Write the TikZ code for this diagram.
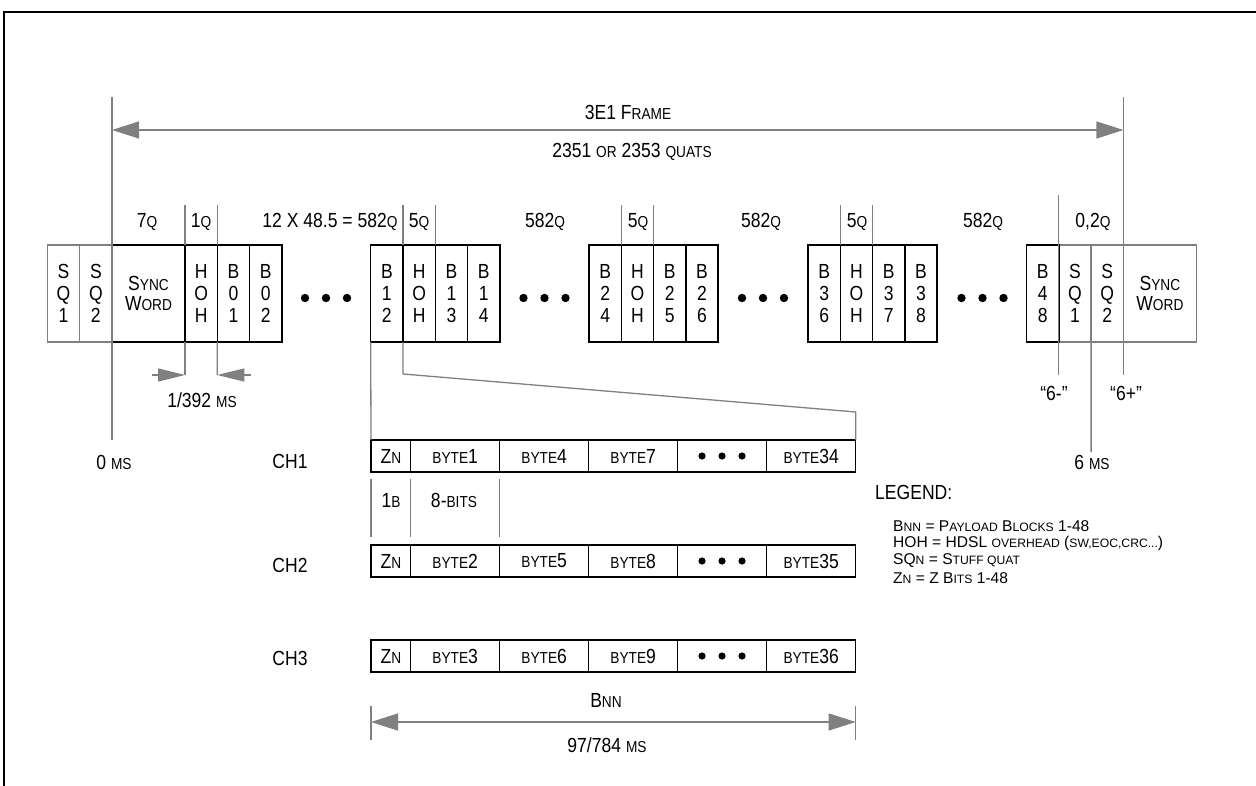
\documentclass[tikz,border=0pt]{standalone}
\usepackage{fontspec}
\usepackage{graphicx}
\setmainfont{Liberation Sans}[FakeStretch=0.86]
\newfontfamily\legfam{Liberation Sans}
\usetikzlibrary{arrows.meta}
\definecolor{lg}{RGB}{128,128,128}
\newcommand\smc[1]{\scalebox{0.78}{#1}}
\newcommand\mainf{\fontsize{20.4pt}{21.7pt}\selectfont}
\newcommand\legf{\legfam\fontsize{15.6pt}{16pt}\selectfont}
\begin{document}
\begin{tikzpicture}[x=1pt,y=-1pt,
  cell/.style={minimum width=32.3pt, minimum height=97pt, inner sep=0pt, outer sep=0pt, align=center, font=\mainf},
  blk/.style={cell, draw=black, line width=1.5pt},
  gry/.style={cell, draw=lg, line width=1.3pt},
  bcell/.style={draw=black, line width=1.5pt, minimum height=32pt, minimum width=89pt, inner sep=0pt, outer sep=0pt, font=\mainf},
  zcell/.style={bcell, minimum width=39.7pt},
  gl/.style={draw=lg, line width=1.3pt},
  dim/.style={gl, {Triangle[length=27pt,width=17pt]}-{Triangle[length=27pt,width=17pt]}},
  sdim/.style={gl, -{Triangle[length=27pt,width=13pt]}},
  lbl/.style={font=\mainf, inner sep=0pt},
  leg/.style={font=\legf, inner sep=0pt, anchor=west},
  dot/.style={fill=black}
]
\useasboundingbox (0,0) rectangle (1256,786);
% outer frame
\draw[line width=2pt] (4,786) -- (4,12) -- (1256,12);

% ---- frame boxes ----
\node[gry] (sq1l) at (63.55,293.5) {S\\Q\\1};
\node[gry] (sq2l) at (95.85,293.5) {S\\Q\\2};
\node[gry] (sq1r) at (1074.95,293.5) {S\\Q\\1};
\node[gry] (sq2r) at (1107.25,293.5) {S\\Q\\2};
\node[gry, minimum width=73pt] (syncr) at (1159.9,293.5) {S\smc{YNC}\\[-1.5pt]W\smc{ORD}};

\node[blk, minimum width=73pt] (syncl) at (148.5,293.5) {S\smc{YNC}\\[-1.5pt]W\smc{ORD}};
\node[blk] (hoh1) at (201.15,293.5) {H\\O\\H};
\node[blk] (b01) at (233.45,293.5) {B\\0\\1};
\node[blk] (b02) at (265.75,293.5) {B\\0\\2};

\node[blk] (b12) at (386.85,293.5) {B\\1\\2};
\node[blk] (hoh2) at (419.15,293.5) {H\\O\\H};
\node[blk] (b13) at (451.45,293.5) {B\\1\\3};
\node[blk] (b14) at (483.75,293.5) {B\\1\\4};

\node[blk] (b24) at (605.15,293.5) {B\\2\\4};
\node[blk] (hoh3) at (637.45,293.5) {H\\O\\H};
\node[blk] (b25) at (669.75,293.5) {B\\2\\5};
\node[blk] (b26) at (702.05,293.5) {B\\2\\6};

\node[blk] (b36) at (824.15,293.5) {B\\3\\6};
\node[blk] (hoh4) at (856.45,293.5) {H\\O\\H};
\node[blk] (b37) at (888.75,293.5) {B\\3\\7};
\node[blk] (b38) at (921.05,293.5) {B\\3\\8};

\node[blk] (b48) at (1042.65,293.5) {B\\4\\8};

% ellipsis dots
\foreach \c in {326,544.5,763,982.5}{
  \fill[dot] (\c-21,298) circle (4.2);
  \fill[dot] (\c,298) circle (4.2);
  \fill[dot] (\c+21,298) circle (4.2);
}

% ---- long frame lines and arrow ----
\coordinate (lt) at (112,97);
\coordinate (lb) at (112,440);
\coordinate (rt) at (1123.4,97);
\coordinate (rb) at (1123.4,375);
\coordinate (al) at (112,130);
\coordinate (ar) at (1123.4,130);
\draw[gl] (lt) -- (lb);
\draw[gl] (rt) -- (rb);
\draw[dim] (al) -- (ar);
\node[lbl] (t3e1) at (628,112) {3E1 F\smc{RAME}};
\node[lbl] (tquats) at (632,152) {2351 \smc{OR} 2353 \smc{QUATS}};

% header markers
\foreach \x in {185,217.3,403,435.3,621.3,653.6,840.3,872.6}{
  \draw[gl] (\x,205) -- (\x,245);
}
\coordinate (m6t) at (1058.8,195);
\coordinate (m6b) at (1058.8,375);
\draw[gl] (m6t) -- (m6b);
\coordinate (s6b) at (1091.1,452);
\draw[gl] (sq1r.south east) -- (s6b);

\node[lbl] (h7q) at (147,222) {7\smc{Q}};
\node[lbl] (h1q) at (201,222) {1\smc{Q}};
\node[lbl] (h582a) at (330,222) {12 X 48.5 = 582\smc{Q}};
\node[lbl] (h5a) at (419,222) {5\smc{Q}};
\node[lbl] (h582b) at (545,222) {582\smc{Q}};
\node[lbl] (h5b) at (638,222) {5\smc{Q}};
\node[lbl] (h582c) at (761,222) {582\smc{Q}};
\node[lbl] (h5c) at (857,222) {5\smc{Q}};
\node[lbl] (h582d) at (983,222) {582\smc{Q}};
\node[lbl] (h02) at (1093,222) {0,2\smc{Q}};

% 1/392 ms
\coordinate (d1) at (185,375);
\coordinate (d2) at (217.3,375);
\coordinate (d1s) at (151.7,375);
\coordinate (d2s) at (250.6,375);
\draw[gl] (hoh1.south west) -- (d1);
\draw[gl] (hoh1.south east) -- (d2);
\draw[sdim] (d1s) -- (d1);
\draw[sdim] (d2s) -- (d2);
\node[lbl] (t392) at (202,400) {1/392 \smc{MS}};

\node[lbl] (t0ms) at (114,462) {0 \smc{MS}};
\node[lbl] (t6ms) at (1092,462) {6 \smc{MS}};
\node[lbl] (t6m) at (1054,393) {“6-”};
\node[lbl] (t6p) at (1126,393) {“6+”};

% ---- channel rows ----
\node[lbl] (ch1) at (290,461) {CH1};
\node[lbl] (ch2) at (290,565) {CH2};
\node[lbl] (ch3) at (290,658) {CH3};

\foreach \r/\y/\a/\b/\c/\d in {1/456/1/4/7/34, 2/561/2/5/8/35, 3/656/3/6/9/36}{
  \node[zcell] (z\r) at (390.85,\y) {Z\smc{N}};
  \node[bcell] (ba\r) at (455.2,\y) {\smc{BYTE}\a};
  \node[bcell] (bb\r) at (544.2,\y) {\smc{BYTE}\b};
  \node[bcell] (bc\r) at (633.2,\y) {\smc{BYTE}\c};
  \node[bcell] (bd\r) at (722.2,\y) {};
  \node[bcell] (be\r) at (811.2,\y) {\smc{BYTE}\d};
  \fill[dot] (702,\y) circle (3.6);
  \fill[dot] (722,\y) circle (3.6);
  \fill[dot] (742,\y) circle (3.6);
}

% zoom lines from frame to CH1
\coordinate (zk1) at (403,374);
\coordinate (zk2) at (855.7,412);
\draw[gl] (b12.south west) -- (z1.north west);
\draw[gl] (hoh2.south west) -- (zk1) -- (zk2) -- (be1.north east);

% 1B / 8-bits
\foreach \x in {371,410.7,499.7}{
  \draw[gl] (\x,479) -- (\x,537);
}
\node[lbl] (t1b) at (391,500) {1\smc{B}};
\node[lbl] (t8b) at (454,500) {8-\smc{BITS}};

% Bnn dimension
\coordinate (bt1) at (371,706);
\coordinate (bb1) at (371,740);
\coordinate (bt2) at (855.7,706);
\coordinate (bb2) at (855.7,740);
\coordinate (ba1) at (371,722);
\coordinate (ba2) at (855.7,722);
\draw[gl] (bt1) -- (bb1);
\draw[gl] (bt2) -- (bb2);
\draw[dim] (ba1) -- (ba2);
\node[lbl] (tbnn) at (606,700) {B\smc{NN}};
\node[lbl] (t97) at (607,745) {97/784 \smc{MS}};

% legend
\node[lbl, anchor=west] (legh) at (875,492) {LEGEND:};
\node[leg] (l1) at (893,526) {B\smc{NN} = P\smc{AYLOAD} B\smc{LOCKS} 1-48};
\node[leg] (l2) at (893,543.5) {HOH = HDSL \smc{OVERHEAD} (\smc{SW,EOC,CRC...})};
\node[leg] (l3) at (893,561) {SQ\smc{N} = S\smc{TUFF QUAT}};
\node[leg] (l4) at (893,578.5) {Z\smc{N} = Z B\smc{ITS} 1-48};
\end{tikzpicture}
\end{document}
